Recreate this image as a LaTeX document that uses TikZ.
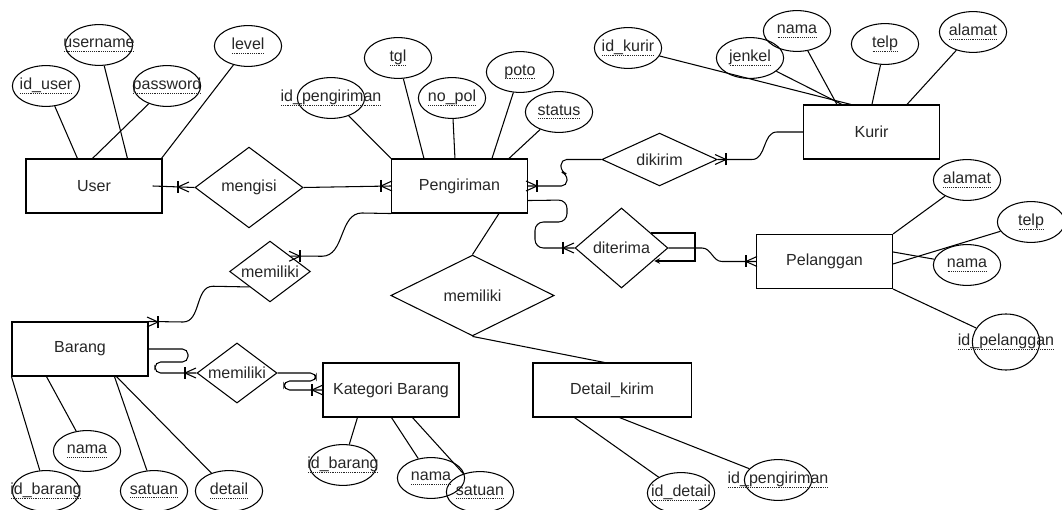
\documentclass[tikz,border=0pt]{standalone}
\usepackage{fontspec}
\setmainfont{Liberation Sans}
\usepackage{tikz}
\usetikzlibrary{arrows,shapes.geometric,calc}
\newcommand{\dul}[1]{\setbox0=\hbox{#1}\leavevmode\rlap{\copy0}\raisebox{-2.6pt}{\hbox to\wd0{\xleaders\hbox to 1.3pt{\hss\vrule width 0.65pt height 0.4pt\hss}\hfill}}}
\tikzstyle{entity} = [draw, rectangle, minimum width=3.4cm, minimum height=1.35cm, inner sep=0pt]
\tikzstyle{attr} = [draw, ellipse, minimum width=1.68cm, minimum height=1.02cm, inner sep=0pt]
\tikzstyle{rel} = [draw, diamond, inner sep=0pt]
\tikzstyle{arrow} = [->,>=stealth]
\tikzset{onemany/.pic={\draw (0,-6) -- (0,6); \draw (11,-5) -- (0,0) -- (11,5);}}

\begin{document}
\begin{tikzpicture}[x=0.025cm, y=-0.025cm, line width=0.75pt, text=black!85,
    font=\fontsize{11.4}{13}\selectfont]
    \useasboundingbox (0,0) rectangle (1062,510);

    % entitas
    \node[entity] (user) at (94,186) {User};
    \node[entity] (peng) at (459.5,186) {Pengiriman};
    \node[entity] (kurir) at (871.5,132) {Kurir};
    \node[entity] (pelanggan) at (824.5,261.5) {Pelanggan};
    \node[entity] (barang) at (80,349) {Barang};
    \node[entity] (kategori) at (391,390) {Kategori Barang};
    \node[entity, minimum width=3.95cm] (detail) at (612,390) {Detail\_kirim};

    % relasi
    \node[rel, minimum width=2.7cm, minimum height=2.02cm, label=center:mengisi] (mengisi) at (249,187.5) {};
    \node[rel, minimum width=2.88cm, minimum height=1.32cm, label=center:dikirim] (dikirim) at (659.5,159.5) {};
    \node[rel, minimum width=2.32cm, minimum height=2cm, label=center:diterima] (diterima) at (621.5,248) {};
    \node[rel, minimum width=2.02cm, minimum height=1.52cm, label=center:memiliki] (mema) at (270,271.5) {};
    \node[rel, minimum width=4.08cm, minimum height=2.02cm, label=center:memiliki] (memc) at (472.5,295.5) {};
    \node[rel, minimum width=2cm, minimum height=1.5cm, label=center:memiliki] (memb) at (237,373) {};

    % atribut User
    \node[attr, label=center:\dul{id\_user}] (iduser) at (46,86) {};
    \node[attr, label=center:\dul{username}] (username) at (99,45) {};
    \node[attr, label=center:\dul{password}] (password) at (167,86) {};
    \node[attr, label=center:\dul{level}] (level) at (248,46) {};
    % atribut Pengiriman
    \node[attr, label=center:\dul{id\_pengiriman}] (idpeng) at (331,98) {};
    \node[attr, label=center:\dul{tgl}] (tgl) at (398,58) {};
    \node[attr, label=center:\dul{no\_pol}] (nopol) at (452,98) {};
    \node[attr, label=center:\dul{poto}] (poto) at (520,72) {};
    \node[attr, label=center:\dul{status}] (status) at (559,112) {};
    % atribut Kurir
    \node[attr, label=center:\dul{id\_kurir}] (idkurir) at (628,48) {};
    \node[attr, label=center:\dul{jenkel}] (jenkel) at (750,58) {};
    \node[attr, label=center:\dul{nama}] (namak) at (797,31) {};
    \node[attr, label=center:\dul{telp}] (telpk) at (885,44) {};
    \node[attr, label=center:\dul{alamat}] (alamatk) at (973,32) {};
    % atribut Pelanggan
    \node[attr, label=center:\dul{alamat}] (alamatp) at (967,180) {};
    \node[attr, label=center:\dul{telp}] (telpp) at (1031,222) {};
    \node[attr, label=center:\dul{nama}] (namap) at (967,265) {};
    \node[attr, minimum height=1.4cm, label=center:\dul{id\_pelanggan}] (idpel) at (1006,342) {};
    % atribut Barang
    \node[attr, label=center:\dul{id\_barang}] (idbarang) at (46,491) {};
    \node[attr, label=center:\dul{nama}] (namab) at (87,451) {};
    \node[attr, label=center:\dul{satuan}] (satuanb) at (154,491) {};
    \node[attr, label=center:\dul{detail}] (detailb) at (229,491) {};
    % atribut Kategori Barang
    \node[attr, label=center:\dul{id\_barang}] (idbarangk) at (343,465) {};
    \node[attr, label=center:\dul{nama}] (namakat) at (431,478) {};
    \node[attr, label=center:\dul{satuan}] (satuankat) at (480,492) {};
    % atribut Detail_kirim
    \node[attr, label=center:\dul{id\_detail}] (iddetail) at (681,493) {};
    \node[attr, label=center:\dul{id\_pengiriman}] (idpengd) at (778,480) {};

    % garis atribut
    \foreach \a/\dx in {iduser/52, username/102, password/67, level/136}
        \draw (\a) -- ($(user.north west)+(\dx,0)$);
    \foreach \a/\dx in {idpeng/0, tgl/33, nopol/64, poto/101, status/118}
        \draw (\a) -- ($(peng.north west)+(\dx,0)$);
    \foreach \a/\dx in {idkurir/48, jenkel/39, namak/34, telpk/69, alamatk/104}
        \draw (\a) -- ($(kurir.north west)+(\dx,0)$);
    \foreach \a/\dy in {alamatp/0, namap/18, telpp/30}
        \draw (\a) -- ($(pelanggan.north east)+(0,\dy)$);
    \draw (idpel) -- (pelanggan.south east);
    \foreach \a/\dx in {idbarang/0, namab/35, satuanb/103, detailb/105}
        \draw (\a) -- ($(barang.south west)+(\dx,0)$);
    \foreach \a/\dx in {idbarangk/35, namakat/69, satuankat/90}
        \draw (\a) -- ($(kategori.south west)+(\dx,0)$);
    \foreach \a/\dx in {iddetail/42, idpengd/87}
        \draw (\a) -- ($(detail.south west)+(\dx,0)$);

    % garis relasi
    \draw ([xshift=-7pt]user.east) -- (mengisi.west);
    \draw (mengisi.east) -- (peng.west);
    \draw[rounded corners=4] (peng.east) -- (567,186) -- (567,174) -- (561,172) -- (561,159.5) -- (dikirim.west);
    \draw (dikirim.east) -- (752,159.5) to[out=0,in=180] (777,132) -- (kurir.west);
    \draw[rounded corners=6] ($(peng.south east)+(0,-13)$) -- (567,200) -- (567,222) -- (535,222) -- (535,248) -- (diterima.west);
    \draw (diterima.east) -- (702,248) to[out=0,in=180] (722,261.5) -- (pelanggan.west);
    \draw[arrow] ($(diterima.east)+(-17,-15)$) -- (695,233) -- (695,261) -- ($(diterima.east)+(-14,13)$);
    \draw (memc.north) -- ($(peng.south west)+(108,0)$);
    \draw (memc.south) -- ($(detail.north west)+(72,0)$);
    \draw (mema.north east) -- (322,256.25) to[out=0,in=180] (362,213) -- (peng.south west);
    \draw (barang.north east) -- (183,322) to[out=0,in=180] (213,286.25) -- (mema.south west);
    \draw[rounded corners=4] (barang.east) -- (188,349) -- (188,362) -- (155,362) -- (155,373) -- (memb.west);
    \draw[rounded corners=4] (memb.east) -- (316,373) -- (316,381) -- (284,381) -- (284,390) -- (kategori.west);

    % kardinalitas
    \foreach \p/\r in {{178,187}/0, {381,186}/0, {537,186}/180, {726,159.5}/180, {563,248}/0,
        {746,261.5}/0, {300,256.25}/180, {158,322}/180, {185,373}/0, {312,390}/0}
        \pic[rotate=\r] at (\p) {onemany};
\end{tikzpicture}
\end{document}
